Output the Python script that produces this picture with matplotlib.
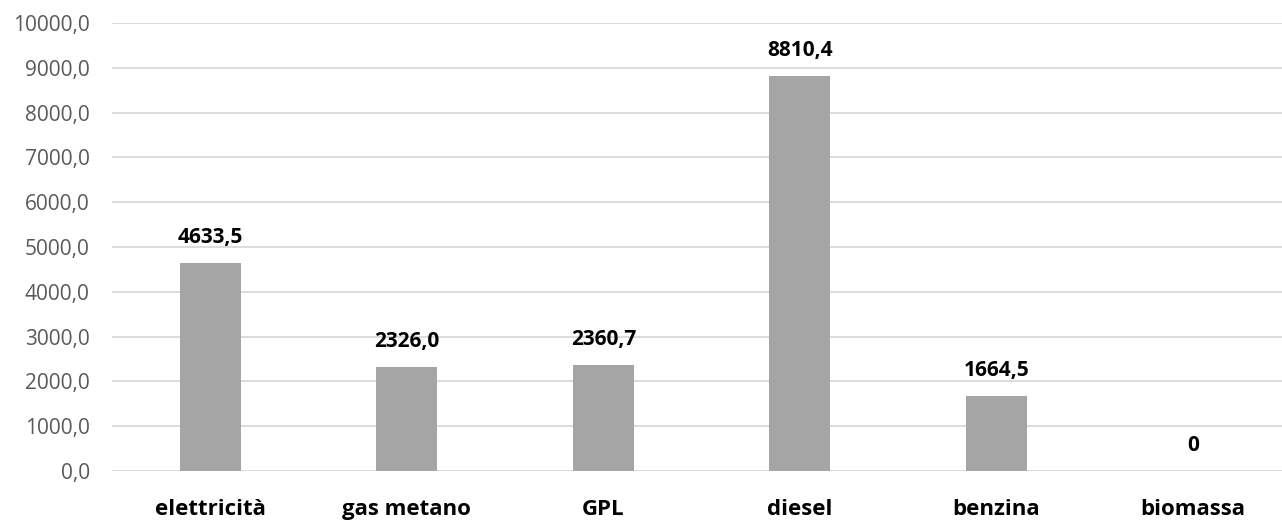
import matplotlib
matplotlib.use("Agg")
import matplotlib.pyplot as plt
from matplotlib.ticker import FuncFormatter

categories = ["elettricità", "gas metano", "GPL", "diesel", "benzina", "biomassa"]
values = [4633.5, 2326.0, 2360.7, 8810.4, 1664.5, 0]
yticks = [0, 1000, 2000, 3000, 4000, 5000, 6000, 7000, 8000, 9000, 10000]

plt.rcParams['font.family'] = ['Open Sans', 'DejaVu Sans']

fig = plt.figure(figsize=(12.82, 5.2), dpi=100)
ax = fig.add_axes([112 / 1282, 1 - 471 / 520, 1 - 112 / 1282, 448 / 520])

x = list(range(len(categories)))
ax.bar(x, values, width=0.31, color="#A5A5A5", zorder=3)

def fmt_label(v):
    return "0" if v == 0 else f"{v:.1f}".replace(".", ",")

for xi, v in zip(x, values):
    ax.annotate(fmt_label(v), (xi, v), xytext=(0, 11), textcoords="offset points",
                ha="center", va="bottom", fontsize=15, fontweight="bold", color="black")

ax.set_xlim(-0.5, 5 + (1282 - 1193) / 196.6)
ax.set_ylim(0, 10000)
ax.set_yticks(yticks)
ax.yaxis.set_major_formatter(FuncFormatter(lambda v, p: f"{v:.1f}".replace(".", ",")))
ax.set_xticks(x)
ax.set_xticklabels(categories, fontsize=16, fontweight="bold", color="black")
ax.tick_params(axis="y", labelsize=15, labelcolor="#595959", length=0, pad=16)
ax.tick_params(axis="x", length=0, pad=20)
ax.grid(axis="y", color="#D9D9D9", linewidth=1.3, zorder=0)
for s in ax.spines.values():
    s.set_visible(False)

fig.savefig("out.png", dpi=100)
